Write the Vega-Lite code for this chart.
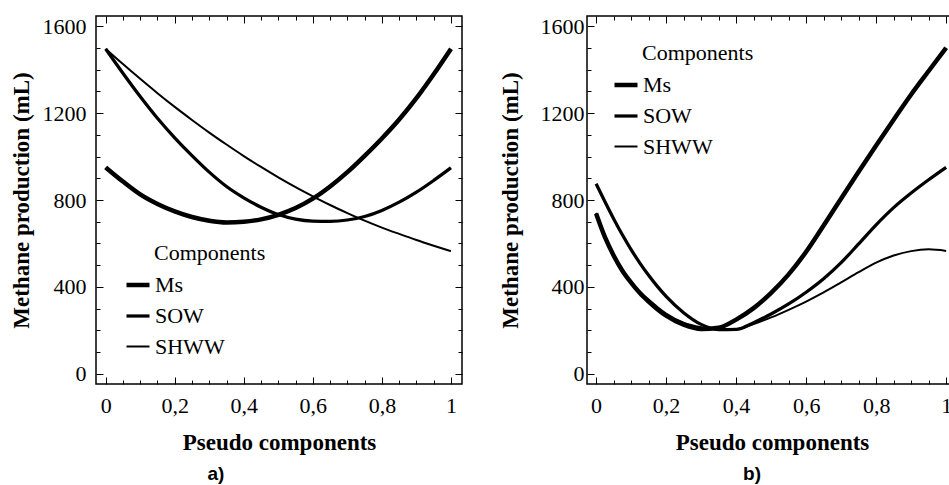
{
  "$schema": "https://vega.github.io/schema/vega-lite/v6.json",
  "padding": {"left": 9, "top": 14, "right": 0, "bottom": 0},
  "background": "white",
  "datasets": {
    "panelA": [
      {"x": 0, "v": 950, "series": "Ms"}, {"x": 0.05, "v": 885, "series": "Ms"}, {"x": 0.1, "v": 826, "series": "Ms"}, {"x": 0.15, "v": 782, "series": "Ms"}, {"x": 0.2, "v": 748, "series": "Ms"}, {"x": 0.25, "v": 722, "series": "Ms"}, {"x": 0.3, "v": 705, "series": "Ms"}, {"x": 0.35, "v": 697, "series": "Ms"}, {"x": 0.4, "v": 700, "series": "Ms"}, {"x": 0.45, "v": 711, "series": "Ms"}, {"x": 0.5, "v": 732, "series": "Ms"}, {"x": 0.55, "v": 763, "series": "Ms"}, {"x": 0.6, "v": 806, "series": "Ms"}, {"x": 0.65, "v": 862, "series": "Ms"}, {"x": 0.7, "v": 928, "series": "Ms"}, {"x": 0.75, "v": 1003, "series": "Ms"}, {"x": 0.8, "v": 1083, "series": "Ms"}, {"x": 0.85, "v": 1170, "series": "Ms"}, {"x": 0.9, "v": 1268, "series": "Ms"}, {"x": 0.95, "v": 1378, "series": "Ms"}, {"x": 1, "v": 1495, "series": "Ms"},
      {"x": 0, "v": 1495, "series": "SOW"}, {"x": 0.05, "v": 1383, "series": "SOW"}, {"x": 0.1, "v": 1276, "series": "SOW"}, {"x": 0.15, "v": 1176, "series": "SOW"}, {"x": 0.2, "v": 1086, "series": "SOW"}, {"x": 0.25, "v": 1004, "series": "SOW"}, {"x": 0.3, "v": 928, "series": "SOW"}, {"x": 0.35, "v": 862, "series": "SOW"}, {"x": 0.4, "v": 810, "series": "SOW"}, {"x": 0.45, "v": 767, "series": "SOW"}, {"x": 0.5, "v": 733, "series": "SOW"}, {"x": 0.55, "v": 712, "series": "SOW"}, {"x": 0.6, "v": 703, "series": "SOW"}, {"x": 0.65, "v": 702, "series": "SOW"}, {"x": 0.7, "v": 708, "series": "SOW"}, {"x": 0.75, "v": 724, "series": "SOW"}, {"x": 0.8, "v": 752, "series": "SOW"}, {"x": 0.85, "v": 790, "series": "SOW"}, {"x": 0.9, "v": 836, "series": "SOW"}, {"x": 0.95, "v": 890, "series": "SOW"}, {"x": 1, "v": 948, "series": "SOW"},
      {"x": 0, "v": 1495, "series": "SHWW"}, {"x": 0.05, "v": 1425, "series": "SHWW"}, {"x": 0.1, "v": 1357, "series": "SHWW"}, {"x": 0.15, "v": 1291, "series": "SHWW"}, {"x": 0.2, "v": 1228, "series": "SHWW"}, {"x": 0.25, "v": 1168, "series": "SHWW"}, {"x": 0.3, "v": 1110, "series": "SHWW"}, {"x": 0.35, "v": 1055, "series": "SHWW"}, {"x": 0.4, "v": 1002, "series": "SHWW"}, {"x": 0.45, "v": 952, "series": "SHWW"}, {"x": 0.5, "v": 904, "series": "SHWW"}, {"x": 0.55, "v": 859, "series": "SHWW"}, {"x": 0.6, "v": 817, "series": "SHWW"}, {"x": 0.65, "v": 777, "series": "SHWW"}, {"x": 0.7, "v": 740, "series": "SHWW"}, {"x": 0.75, "v": 705, "series": "SHWW"}, {"x": 0.8, "v": 673, "series": "SHWW"}, {"x": 0.85, "v": 644, "series": "SHWW"}, {"x": 0.9, "v": 616, "series": "SHWW"}, {"x": 0.95, "v": 590, "series": "SHWW"}, {"x": 1, "v": 565, "series": "SHWW"}
    ],
    "panelB": [
      {"x": 0, "v": 738, "series": "Ms"}, {"x": 0.025, "v": 630, "series": "Ms"}, {"x": 0.05, "v": 545, "series": "Ms"}, {"x": 0.075, "v": 475, "series": "Ms"}, {"x": 0.1, "v": 420, "series": "Ms"}, {"x": 0.125, "v": 372, "series": "Ms"}, {"x": 0.15, "v": 333, "series": "Ms"}, {"x": 0.175, "v": 298, "series": "Ms"}, {"x": 0.2, "v": 268, "series": "Ms"}, {"x": 0.25, "v": 227, "series": "Ms"}, {"x": 0.3, "v": 207, "series": "Ms"}, {"x": 0.35, "v": 213, "series": "Ms"}, {"x": 0.4, "v": 250, "series": "Ms"}, {"x": 0.45, "v": 303, "series": "Ms"}, {"x": 0.5, "v": 373, "series": "Ms"}, {"x": 0.55, "v": 458, "series": "Ms"}, {"x": 0.6, "v": 562, "series": "Ms"}, {"x": 0.65, "v": 683, "series": "Ms"}, {"x": 0.7, "v": 807, "series": "Ms"}, {"x": 0.75, "v": 930, "series": "Ms"}, {"x": 0.8, "v": 1051, "series": "Ms"}, {"x": 0.85, "v": 1169, "series": "Ms"}, {"x": 0.9, "v": 1285, "series": "Ms"}, {"x": 0.95, "v": 1393, "series": "Ms"}, {"x": 1, "v": 1500, "series": "Ms"},
      {"x": 0, "v": 875, "series": "SOW"}, {"x": 0.025, "v": 793, "series": "SOW"}, {"x": 0.05, "v": 714, "series": "SOW"}, {"x": 0.075, "v": 640, "series": "SOW"}, {"x": 0.1, "v": 572, "series": "SOW"}, {"x": 0.125, "v": 510, "series": "SOW"}, {"x": 0.15, "v": 454, "series": "SOW"}, {"x": 0.175, "v": 403, "series": "SOW"}, {"x": 0.2, "v": 357, "series": "SOW"}, {"x": 0.25, "v": 282, "series": "SOW"}, {"x": 0.3, "v": 228, "series": "SOW"}, {"x": 0.35, "v": 204, "series": "SOW"}, {"x": 0.4, "v": 205, "series": "SOW"}, {"x": 0.45, "v": 236, "series": "SOW"}, {"x": 0.5, "v": 276, "series": "SOW"}, {"x": 0.55, "v": 322, "series": "SOW"}, {"x": 0.6, "v": 376, "series": "SOW"}, {"x": 0.65, "v": 438, "series": "SOW"}, {"x": 0.7, "v": 512, "series": "SOW"}, {"x": 0.75, "v": 598, "series": "SOW"}, {"x": 0.8, "v": 686, "series": "SOW"}, {"x": 0.85, "v": 765, "series": "SOW"}, {"x": 0.9, "v": 832, "series": "SOW"}, {"x": 0.95, "v": 893, "series": "SOW"}, {"x": 1, "v": 950, "series": "SOW"},
      {"x": 0, "v": 741, "series": "SHWW"}, {"x": 0.025, "v": 633, "series": "SHWW"}, {"x": 0.05, "v": 548, "series": "SHWW"}, {"x": 0.075, "v": 478, "series": "SHWW"}, {"x": 0.1, "v": 424, "series": "SHWW"}, {"x": 0.125, "v": 378, "series": "SHWW"}, {"x": 0.15, "v": 342, "series": "SHWW"}, {"x": 0.175, "v": 308, "series": "SHWW"}, {"x": 0.2, "v": 278, "series": "SHWW"}, {"x": 0.25, "v": 236, "series": "SHWW"}, {"x": 0.3, "v": 215, "series": "SHWW"}, {"x": 0.35, "v": 205, "series": "SHWW"}, {"x": 0.4, "v": 206, "series": "SHWW"}, {"x": 0.45, "v": 230, "series": "SHWW"}, {"x": 0.5, "v": 260, "series": "SHWW"}, {"x": 0.55, "v": 295, "series": "SHWW"}, {"x": 0.6, "v": 333, "series": "SHWW"}, {"x": 0.65, "v": 375, "series": "SHWW"}, {"x": 0.7, "v": 421, "series": "SHWW"}, {"x": 0.75, "v": 468, "series": "SHWW"}, {"x": 0.8, "v": 512, "series": "SHWW"}, {"x": 0.85, "v": 545, "series": "SHWW"}, {"x": 0.9, "v": 565, "series": "SHWW"}, {"x": 0.95, "v": 573, "series": "SHWW"}, {"x": 1, "v": 566, "series": "SHWW"}
    ]
  },
  "hconcat": [
    {
      "width": 366,
      "height": 368,
      "data": {"name": "panelA"},
      "title": {"text": "a)", "orient": "bottom", "font": "Liberation Sans, Arial, sans-serif", "fontSize": 19, "fontWeight": "bold", "color": "black", "dx": -63, "offset": 11},
      "layer": [
        {
          "mark": {"type": "line", "interpolate": "monotone", "color": "black"},
          "encoding": {
            "x": {"field": "x", "type": "quantitative", "scale": {"domain": [-0.028, 1.032], "nice": false, "zero": false},
              "axis": {"orient": "bottom", "title": "Pseudo components", "values": [0,0.05,0.1,0.15,0.2,0.25,0.3,0.35,0.4,0.45,0.5,0.55,0.6,0.65,0.7,0.75,0.8,0.85,0.9,0.95,1],
                "labelExpr": "round(datum.value*20) % 4 == 0 ? replace(format(datum.value, '.1~f'), '.', ',') : ''",
                "tickSize": {"condition": {"test": "round(datum.value*20) % 4 == 0", "value": -7}, "value": -4},
                "labelPadding": 18, "titlePadding": 12, "labelOverlap": false, "labelFlush": false}},
            "y": {"field": "v", "type": "quantitative", "scale": {"domain": [-46, 1646], "nice": false, "zero": false},
              "axis": {"orient": "left", "title": "Methane production (mL)", "values": [0,100,200,300,400,500,600,700,800,900,1000,1100,1200,1300,1400,1500,1600],
                "format": "d", "labelExpr": "datum.value % 400 == 0 ? datum.label : ''",
                "tickSize": {"condition": {"test": "datum.value % 400 == 0", "value": -7}, "value": -4},
                "labelPadding": 17, "titlePadding": 9, "labelOverlap": false}},
            "strokeWidth": {"field": "series", "type": "nominal", "scale": {"domain": ["Ms", "SOW", "SHWW"], "range": [4.5, 2, 1]},
              "legend": {"orient": "none", "legendX": 58, "legendY": 227, "title": "Components"}}
          }
        },
        {
          "mark": {"type": "line", "opacity": 0},
          "encoding": {
            "x": {"field": "x", "type": "quantitative", "axis": {"orient": "top", "title": null, "labels": false, "values": [0,0.05,0.1,0.15,0.2,0.25,0.3,0.35,0.4,0.45,0.5,0.55,0.6,0.65,0.7,0.75,0.8,0.85,0.9,0.95,1],
              "tickSize": {"condition": {"test": "round(datum.value*20) % 4 == 0", "value": -7}, "value": -4}}},
            "y": {"field": "v", "type": "quantitative", "axis": {"orient": "right", "title": null, "labels": false, "values": [0,100,200,300,400,500,600,700,800,900,1000,1100,1200,1300,1400,1500,1600],
              "tickSize": {"condition": {"test": "datum.value % 400 == 0", "value": -7}, "value": -4}}},
            "detail": {"field": "series"}
          }
        }
      ],
      "resolve": {"axis": {"x": "independent", "y": "independent"}}
    },
    {
      "width": 370,
      "height": 368,
      "data": {"name": "panelB"},
      "title": {"text": "b)", "orient": "bottom", "font": "Liberation Sans, Arial, sans-serif", "fontSize": 19, "fontWeight": "bold", "color": "black", "dx": -20, "offset": 11},
      "layer": [
        {
          "mark": {"type": "line", "interpolate": "monotone", "color": "black"},
          "encoding": {
            "x": {"field": "x", "type": "quantitative", "scale": {"domain": [-0.026, 1.031], "nice": false, "zero": false},
              "axis": {"orient": "bottom", "title": "Pseudo components", "values": [0,0.05,0.1,0.15,0.2,0.25,0.3,0.35,0.4,0.45,0.5,0.55,0.6,0.65,0.7,0.75,0.8,0.85,0.9,0.95,1],
                "labelExpr": "round(datum.value*20) % 4 == 0 ? replace(format(datum.value, '.1~f'), '.', ',') : ''",
                "tickSize": {"condition": {"test": "round(datum.value*20) % 4 == 0", "value": -7}, "value": -4},
                "labelPadding": 18, "titlePadding": 12, "labelOverlap": false, "labelFlush": false}},
            "y": {"field": "v", "type": "quantitative", "scale": {"domain": [-46, 1646], "nice": false, "zero": false},
              "axis": {"orient": "left", "title": "Methane production (mL)", "values": [0,100,200,300,400,500,600,700,800,900,1000,1100,1200,1300,1400,1500,1600],
                "format": "d", "labelExpr": "datum.value % 400 == 0 ? datum.label : ''",
                "tickSize": {"condition": {"test": "datum.value % 400 == 0", "value": -7}, "value": -4},
                "labelPadding": 10, "titlePadding": 18, "labelOverlap": false}},
            "strokeWidth": {"field": "series", "type": "nominal", "scale": {"domain": ["Ms", "SOW", "SHWW"], "range": [4.5, 2, 1]},
              "legend": {"orient": "none", "legendX": 55, "legendY": 27, "title": "Components"}}
          }
        },
        {
          "mark": {"type": "line", "opacity": 0},
          "encoding": {
            "x": {"field": "x", "type": "quantitative", "axis": {"orient": "top", "title": null, "labels": false, "values": [0,0.05,0.1,0.15,0.2,0.25,0.3,0.35,0.4,0.45,0.5,0.55,0.6,0.65,0.7,0.75,0.8,0.85,0.9,0.95,1],
              "tickSize": {"condition": {"test": "round(datum.value*20) % 4 == 0", "value": -7}, "value": -4}}},
            "y": {"field": "v", "type": "quantitative", "axis": {"orient": "right", "title": null, "labels": false, "values": [0,100,200,300,400,500,600,700,800,900,1000,1100,1200,1300,1400,1500,1600],
              "tickSize": {"condition": {"test": "datum.value % 400 == 0", "value": -7}, "value": -4}}},
            "detail": {"field": "series"}
          }
        }
      ],
      "resolve": {"axis": {"x": "independent", "y": "independent"}}
    }
  ],
  "spacing": 34,
  "resolve": {"scale": {"strokeWidth": "independent"}, "legend": {"strokeWidth": "independent"}},
  "config": {
    "view": {"stroke": "black", "strokeWidth": 1.5},
    "axis": {"domain": false, "grid": false, "labelFont": "Liberation Serif, Times New Roman, DejaVu Serif, serif", "labelFontSize": 22, "labelColor": "black",
      "titleFont": "Liberation Serif, Times New Roman, DejaVu Serif, serif", "titleFontSize": 23, "titleFontWeight": "bold", "titleColor": "black",
      "tickColor": "black", "tickWidth": 1},
    "legend": {"titleFont": "Liberation Serif, Times New Roman, DejaVu Serif, serif", "titleFontSize": 22, "titleFontWeight": "normal", "titleColor": "black",
      "labelFont": "Liberation Serif, Times New Roman, DejaVu Serif, serif", "labelFontSize": 22, "labelColor": "black", "symbolType": "stroke", "symbolSize": 529,
      "symbolStrokeColor": "black", "symbolOffset": -30, "labelOffset": 3, "rowPadding": 6.5, "titlePadding": 6}
  }
}
